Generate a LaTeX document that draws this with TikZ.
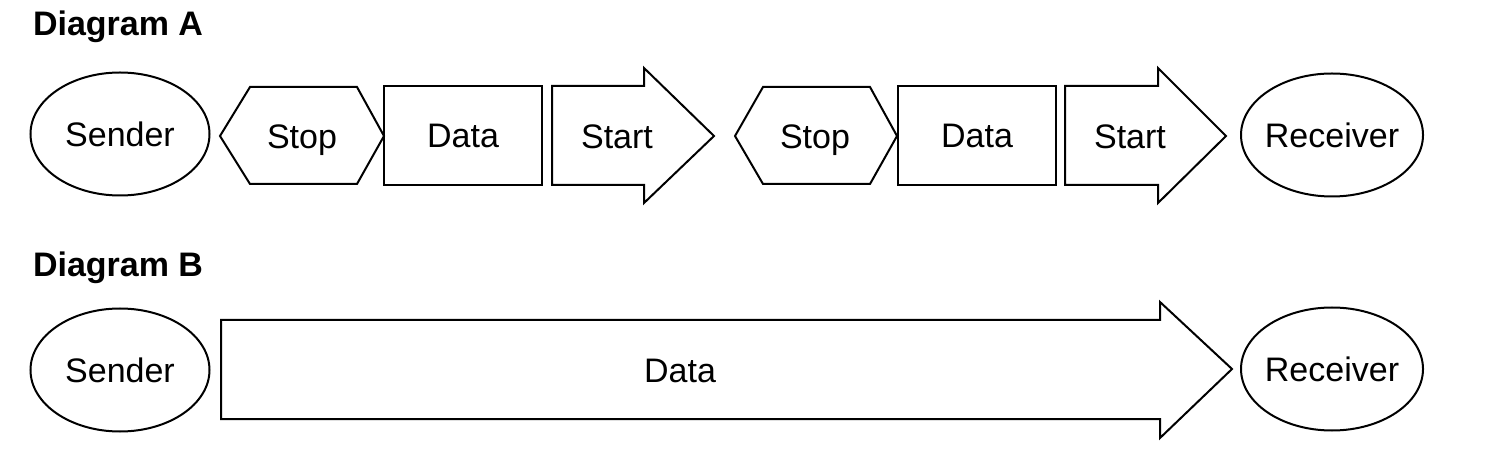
\documentclass[tikz,border=0pt]{standalone}
\usepackage{fontspec}
\setmainfont{Liberation Sans}
\usetikzlibrary{shapes.geometric}
\begin{document}
\begin{tikzpicture}[x=0.5pt,y=-0.5pt,
  line width=1pt, line join=miter,
  lbl/.style={font=\fontsize{17}{20}\selectfont, inner sep=0pt, text height=12.2pt, text depth=0pt},
  ttl/.style={font=\fontsize{17}{20}\selectfont\bfseries, inner sep=0pt, anchor=base west},
  endpt/.style={ellipse, draw, inner sep=0pt, minimum width=91pt, minimum height=61.5pt},
  databox/.style={rectangle, draw, inner sep=0pt, minimum width=79pt, minimum height=49.5pt}]
\useasboundingbox (0,0) rectangle (1487,475);
% titles
\node[ttl] (ta) at (32,36) {Diagram A};
\node[ttl] (tb) at (32,277) {Diagram B};
% Diagram A
\node[endpt, minimum width=89.5pt] (sa) at (120,134) {};
\node[lbl] at (sa.center) {Sender};
\draw (220,136) -- (250,87) -- (357,87) -- (384,136) -- (357,184) -- (250,184) -- cycle;
\node[lbl] (stop1) at (302,136) {Stop};
\node[databox] (d1) at (463,135.5) {};
\node[lbl] at (d1.center) {Data};
\draw (552,86) -- (644,86) -- (644,68) -- (714,136) -- (644,203) -- (644,185) -- (552,185) -- cycle;
\node[lbl] (start1) at (617,136) {Start};
\draw (735,136) -- (763,87) -- (870,87) -- (897,136) -- (870,184) -- (763,184) -- cycle;
\node[lbl] (stop2) at (815,136) {Stop};
\node[databox] (d2) at (977,135.5) {};
\node[lbl] at (d2.center) {Data};
\draw (1065,86) -- (1158,86) -- (1158,68) -- (1226,136) -- (1158,203) -- (1158,185) -- (1065,185) -- cycle;
\node[lbl] (start2) at (1130,136) {Start};
\node[endpt] (ra) at (1332,135) {};
\node[lbl] at (ra.center) {Receiver};
% Diagram B
\node[endpt, minimum width=89.5pt] (sb) at (120,370) {};
\node[lbl] at (sb.center) {Sender};
\draw (221,320) -- (1160,320) -- (1160,302) -- (1232,369) -- (1160,438) -- (1160,419) -- (221,419) -- cycle;
\node[lbl] (db) at (680,370) {Data};
\node[endpt] (rb) at (1332,369) {};
\node[lbl] at (rb.center) {Receiver};
\end{tikzpicture}
\end{document}
